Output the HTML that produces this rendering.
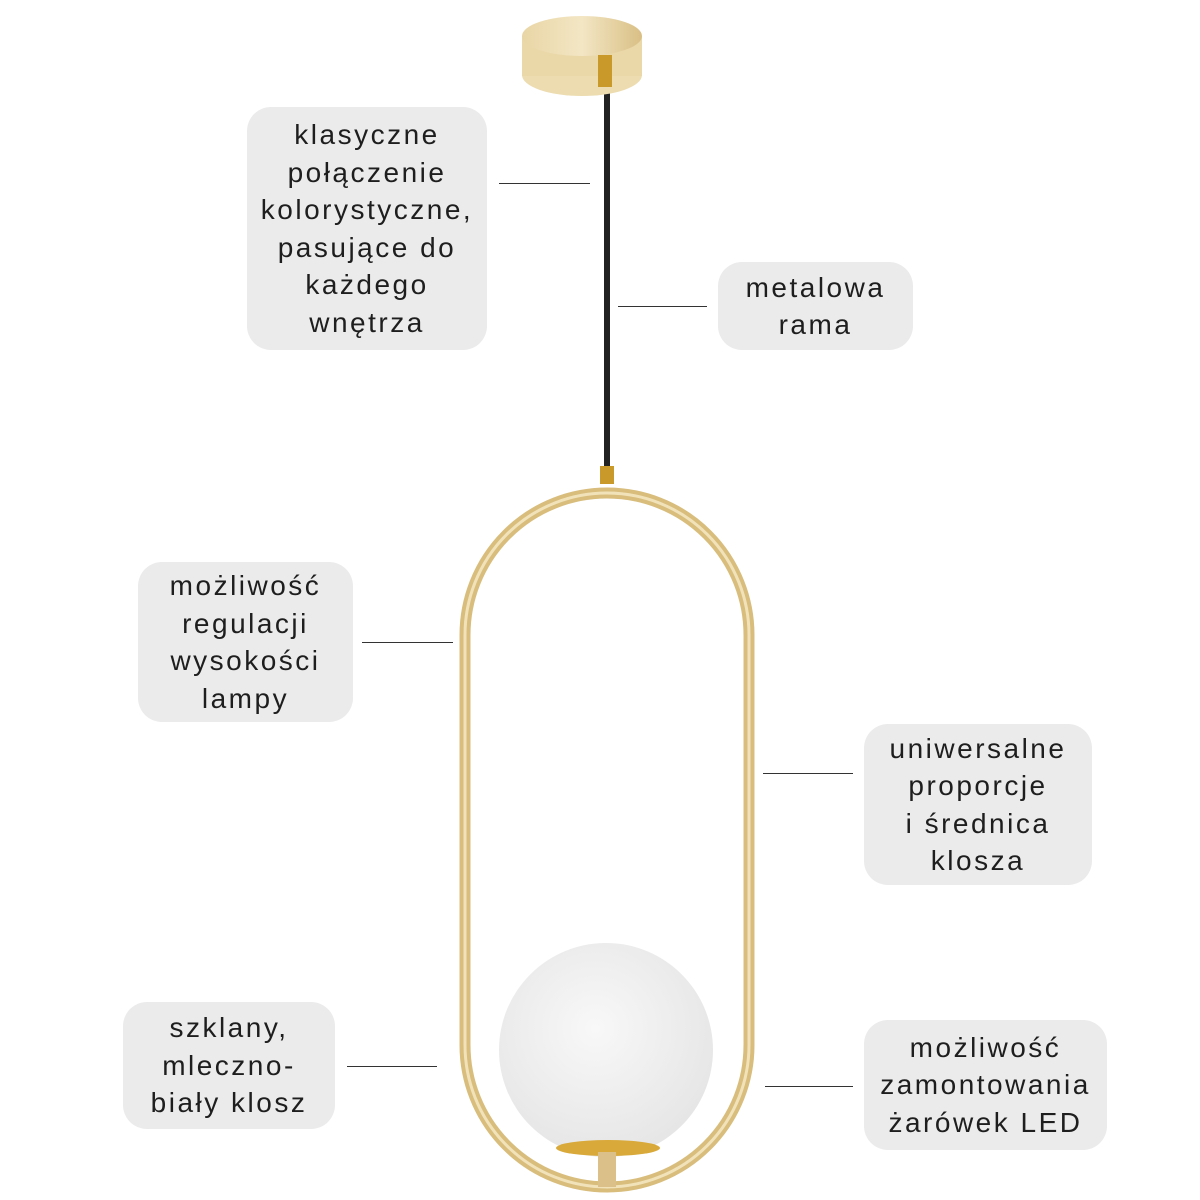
<!DOCTYPE html>
<html><head><meta charset="utf-8"><style>
body{margin:0;width:1200px;height:1200px;background:#fff;position:relative;overflow:hidden;font-family:"Liberation Sans",sans-serif}
.b{position:absolute;background:#ebebeb;border-radius:24px;display:flex;align-items:center;justify-content:center;text-align:center;font-size:28px;letter-spacing:2.5px;line-height:37.5px;color:#1e1e1e;white-space:nowrap}
.l{position:absolute;height:1px;background:#333}
svg{position:absolute;left:0;top:0}
</style></head><body>
<svg width="1200" height="1200">
<defs>
<linearGradient id="g" x1="0" x2="1"><stop offset="0" stop-color="#e9d6a6"/><stop offset=".5" stop-color="#f3e6c4"/><stop offset="1" stop-color="#d9bf85"/></linearGradient>
<radialGradient id="w" cx=".45" cy=".4" r=".6"><stop offset="0" stop-color="#f8f8f8"/><stop offset="1" stop-color="#e6e6e6"/></radialGradient>
</defs>
<rect x="604" y="90" width="6" height="385" fill="#222"/>
<ellipse cx="582" cy="75" rx="60" ry="21" fill="#ecdcb0"/>
<rect x="522" y="36" width="120" height="40" fill="#ead8a9"/>
<ellipse cx="582" cy="36" rx="60" ry="20" fill="url(#g)"/>
<rect x="598" y="55" width="14" height="32" fill="#c99a2a"/>
<rect x="600" y="466" width="14" height="18" fill="#c99a2a"/>
<path d="M465 635 A142 142 0 0 1 749 635 V1045 A142 142 0 0 1 465 1045 Z" fill="none" stroke="#d8bd7c" stroke-width="11"/>
<path d="M465 635 A142 142 0 0 1 749 635 V1045 A142 142 0 0 1 465 1045 Z" fill="none" stroke="#f1e2b9" stroke-width="3"/>
<circle cx="606" cy="1050" r="107" fill="url(#w)"/>
<ellipse cx="608" cy="1148" rx="52" ry="8" fill="#d9a93a"/>
<rect x="598" y="1152" width="18" height="35" fill="#dcc08a"/>
</svg>
<div class="b" style="left:247px;top:107px;width:240px;height:243px">klasyczne<br>połączenie<br>kolorystyczne,<br>pasujące do<br>każdego<br>wnętrza</div>
<div class="b" style="left:718px;top:262px;width:195px;height:88px">metalowa<br>rama</div>
<div class="b" style="left:138px;top:562px;width:215px;height:160px">możliwość<br>regulacji<br>wysokości<br>lampy</div>
<div class="b" style="left:864px;top:724px;width:228px;height:161px">uniwersalne<br>proporcje<br>i średnica<br>klosza</div>
<div class="b" style="left:123px;top:1002px;width:212px;height:127px">szklany,<br>mleczno-<br>biały klosz</div>
<div class="b" style="left:864px;top:1020px;width:243px;height:130px">możliwość<br>zamontowania<br>żarówek LED</div>
<div class="l" style="left:499px;top:183px;width:91px"></div>
<div class="l" style="left:618px;top:306px;width:89px"></div>
<div class="l" style="left:362px;top:642px;width:91px"></div>
<div class="l" style="left:763px;top:773px;width:90px"></div>
<div class="l" style="left:347px;top:1066px;width:90px"></div>
<div class="l" style="left:765px;top:1086px;width:88px"></div>
</body></html>
